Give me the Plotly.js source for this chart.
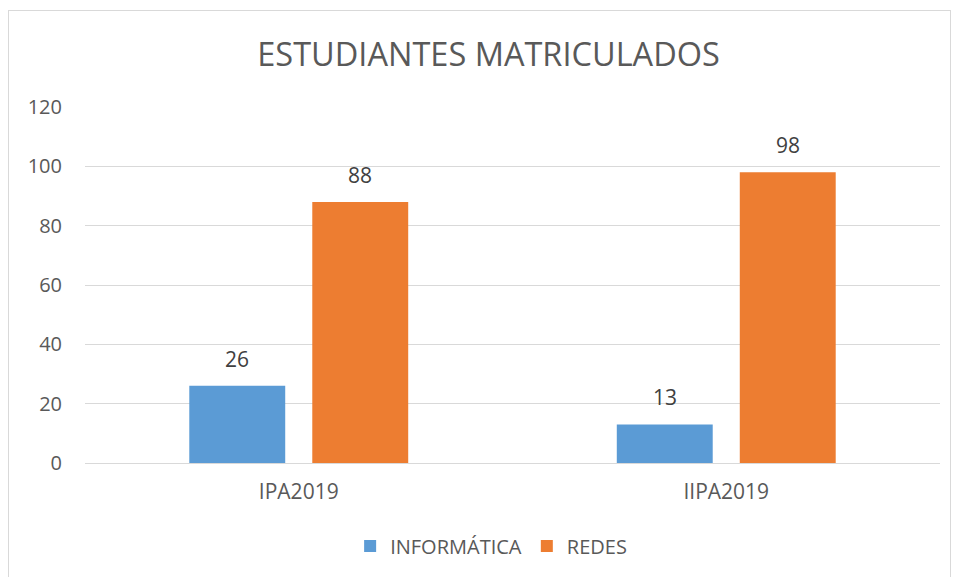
<!DOCTYPE html>
<html><head><meta charset="utf-8">
<script src="https://cdn.plot.ly/plotly-3.0.1.min.js"></script>
<style>
html,body{margin:0;padding:0;background:#fff;}
#wrap{position:relative;width:958px;height:577px;}
#chart{width:958px;height:577px;}
#frame{position:absolute;left:8px;top:10px;width:941px;height:580px;border:1px solid #d9d9d9;pointer-events:none;}
</style></head>
<body><div id="wrap"><div id="chart"></div><div id="frame"></div></div>
<script>
const categories = ['IPA2019', 'IIPA2019'];
const informatica = [26, 13];
const redes = [88, 98];
const seriesNames = ['INFORMÁTICA', 'REDES'];
const seriesColors = ['#5b9bd5', '#ed7d31'];
const yTicks = [0, 20, 40, 60, 80, 100, 120];

const font = 'Open Sans, Liberation Sans, sans-serif';
const W = 958, H = 577;
const margin = {l:85, r:18, t:107, b:114};
const bargap = 0.4246, bargroupgap = 0.22;
const series = [informatica, redes];

const traces = series.map((vals, i) => ({
  type:'bar', name:seriesNames[i], x:categories, y:vals,
  marker:{color:seriesColors[i]}, hoverinfo:'none'
}));

// data labels as annotations, offset from each bar's centre as Plotly lays the groups out
const plotW = W - margin.l - margin.r;
const slot = plotW / categories.length * (1 - bargap) / series.length;
const annotations = [];
series.forEach((vals, i) => {
  const shift = (i - (series.length - 1) / 2) * slot;
  vals.forEach((v, j) => annotations.push({
    x:categories[j], y:v, xref:'x', yref:'y', text:String(v), showarrow:false,
    xshift:shift, yshift:11, yanchor:'bottom',
    font:{family:font, size:21, color:'#404040'}
  }));
});

const layout = {
  width:W, height:H, margin:margin,
  paper_bgcolor:'#fff', plot_bgcolor:'#fff',
  font:{family:font, color:'#595959', size:20},
  title:{text:'ESTUDIANTES MATRICULADOS', x:0.51, xanchor:'center', y:0.905, yanchor:'middle',
         font:{family:font, size:32.5, color:'#595959'}},
  barmode:'group', bargap:bargap, bargroupgap:bargroupgap,
  showlegend:true,
  legend:{orientation:'h', x:0.475, xanchor:'center', y:-0.233, yanchor:'middle',
          font:{family:font, size:20, color:'#595959'}, itemwidth:30, traceorder:'normal'},
  annotations:annotations,
  xaxis:{type:'category', showgrid:false, showline:true, linecolor:'#d9d9d9', linewidth:1,
         ticks:'', ticklabelstandoff:10, tickfont:{family:font, size:21, color:'#595959'}},
  yaxis:{range:[0,120], tickvals:yTicks, ticktext:yTicks.map(String), showgrid:true, gridcolor:'#d9d9d9',
         zeroline:false, showline:false, ticks:'', ticklabelstandoff:22,
         tickfont:{family:font, size:20, color:'#595959'}}
};
Plotly.newPlot('chart', traces, layout, {displayModeBar:false, staticPlot:true});
</script></body></html>
